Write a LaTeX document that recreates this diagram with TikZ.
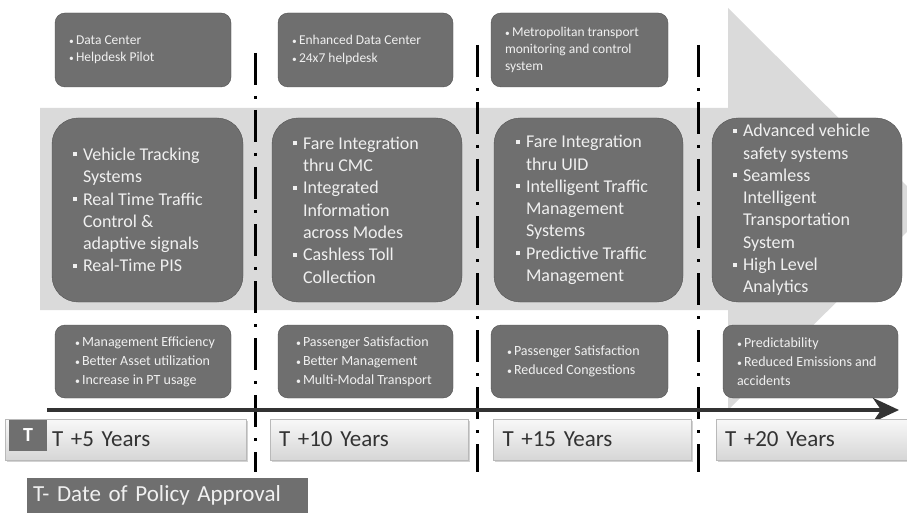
\documentclass[tikz,border=0pt]{standalone}
\usepackage{fontspec}
\setmainfont{Carlito}
\usetikzlibrary{arrows.meta, positioning, shadows}

\definecolor{boxfill}{HTML}{6F6F6F}
\definecolor{boxedge}{HTML}{525252}
\definecolor{boxtext}{HTML}{F0F0F0}
\definecolor{arrowfill}{HTML}{DADADA}
\definecolor{linecol}{HTML}{333333}
\definecolor{yeartop}{HTML}{F8F8F8}
\definecolor{yearbot}{HTML}{D6D6D6}

\newcommand{\sqb}{\makebox[10pt][l]{\rule[4pt]{4pt}{4pt}}}
\newcommand{\indt}{\hspace*{10pt}}
\newcommand{\dotb}{\makebox[7pt][l]{\scalebox{0.7}{\textbullet}}}

\begin{document}
\begin{tikzpicture}[x=1pt, y=-1pt,
	topbox/.style={draw=boxedge, fill=boxfill, rounded corners=10pt, minimum height=74pt},
	midbox/.style={draw=boxedge, fill=boxfill, rounded corners=26pt, minimum height=184pt},
	lowbox/.style={draw=boxedge, fill=boxfill, rounded corners=10pt, minimum height=73pt},
	toptext/.style={text=boxtext, align=left, inner sep=0pt, font=\fontsize{13.5}{17.3}\selectfont},
	midtext/.style={text=boxtext, align=left, inner sep=0pt, font=\fontsize{18}{22.3}\selectfont},
	lowtext/.style={text=boxtext, align=left, inner sep=0pt, font=\fontsize{14}{19}\selectfont},
	yearbox/.style={draw=gray!55, top color=yeartop, bottom color=yearbot, minimum height=41pt,
		text width=180pt, inner xsep=9pt, align=left, text=linecol, font=\fontsize{23}{26}\selectfont,
		drop shadow={shadow xshift=1.5pt, shadow yshift=-2pt, opacity=0.35}},
	sepline/.style={line width=3pt, dash pattern=on 32pt off 11pt on 3pt off 11pt},
	timeline/.style={line width=4.5pt, linecol, -{Stealth[length=26pt, width=24pt, inset=8pt]}}
]
	\useasboundingbox (0,0) rectangle (907,513);
	\clip (0,0) rectangle (907,513);
	\fill[white] (0,0) rectangle (907,513);
	
	% Big background arrow
	\fill[arrowfill] (40,108) -- (728,108) -- (728,8) -- (930,209) -- (728,410)
		-- (728,310) -- (40,310) -- cycle;
	
	% Phase separators
	\coordinate (v1top) at (255,53);
	\coordinate (v1bot) at (255,472);
	\coordinate (v2top) at (477,45);
	\coordinate (v2bot) at (477,472);
	\coordinate (v3top) at (698,45);
	\coordinate (v3bot) at (698,472);
	\draw[sepline] (v1top) -- (v1bot);
	\draw[sepline] (v2top) -- (v2bot);
	\draw[sepline] (v3top) -- (v3bot);
	
	% --- TOP ROW: infrastructure ---
	\node[topbox, minimum width=176pt] (d1) at (143,50) {};
	\node[toptext, right=14pt of d1.west] (d1t) {\dotb Data Center\\ \dotb Helpdesk Pilot};
	\node[topbox, minimum width=175pt] (d2) at (365.5,50) {};
	\node[toptext, right=14pt of d2.west] (d2t) {\dotb Enhanced Data Center\\ \dotb 24x7 helpdesk};
	\node[topbox, minimum width=177pt] (d3) at (579.5,50) {};
	\node[toptext, right=14pt of d3.west] (d3t) {\dotb Metropolitan transport\\ monitoring and control\\ system};
	
	% --- MIDDLE ROW: systems ---
	\node[midbox, minimum width=191pt] (s1) at (147.5,210) {};
	\node[midtext, right=21pt of s1.west] (s1t) {\sqb Vehicle Tracking\\ \indt Systems\\
		\sqb Real Time Traffic\\ \indt Control \&\\ \indt adaptive signals\\ \sqb Real-Time PIS};
	\node[midbox, minimum width=190pt] (s2) at (367,210) {};
	\node[midtext, right=21pt of s2.west] (s2t) {\sqb Fare Integration\\ \indt thru CMC\\
		\sqb Integrated\\ \indt Information\\ \indt across Modes\\ \sqb Cashless Toll\\ \indt Collection};
	\node[midbox, minimum width=189pt] (s3) at (588.5,210) {};
	\node[midtext, right=22pt of s3.west] (s3t) {\sqb Fare Integration\\ \indt thru UID\\
		\sqb Intelligent Traffic\\ \indt Management\\ \indt Systems\\ \sqb Predictive Traffic\\ \indt Management};
	\node[midbox, minimum width=190pt] (s4) at (807,210) {};
	\node[midtext, right=21pt of s4.west] (s4t) {\sqb Advanced vehicle\\ \indt safety systems\\
		\sqb Seamless\\ \indt Intelligent\\ \indt Transportation\\ \indt System\\ \sqb High Level\\ \indt Analytics};
	
	% --- BOTTOM ROW: benefits ---
	\node[lowbox, minimum width=176pt] (b1) at (143,361.5) {};
	\node[lowtext, right=20pt of b1.west] (b1t) {\dotb Management Efficiency\\
		\dotb Better Asset utilization\\ \dotb Increase in PT usage};
	\node[lowbox, minimum width=175pt] (b2) at (365.5,361.5) {};
	\node[lowtext, right=18pt of b2.west] (b2t) {\dotb Passenger Satisfaction\\
		\dotb Better Management\\ \dotb Multi-Modal Transport};
	\node[lowbox, minimum width=177pt] (b3) at (579.5,361.5) {};
	\node[lowtext, right=16pt of b3.west] (b3t) {\dotb Passenger Satisfaction\\ \dotb Reduced Congestions};
	\node[lowbox, minimum width=175pt] (b4) at (810.5,361.5) {};
	\node[lowtext, right=14pt of b4.west] (b4t) {\dotb Predictability\\ \dotb Reduced Emissions and\\ accidents};
	
	% Time axis
	\coordinate (tstart) at (47,410);
	\coordinate (tend) at (899,410);
	\draw[timeline] (tstart) -- (tend);
	
	% Milestones
	\node[yearbox, minimum width=241pt, text width=147pt, inner xsep=47pt] (y1) at (125.5,439.5) {T +5 Years};
	\node[yearbox] (y2) at (369,439.5) {T +10 Years};
	\node[yearbox] (y3) at (592.5,439.5) {T +15 Years};
	\node[yearbox] (y4) at (815,439.5) {T +20 Years};
	\node[fill=boxfill, text=white, minimum width=38pt, minimum height=31pt, inner sep=0pt,
		font=\fontsize{20}{24}\selectfont\bfseries] (t0) at (28,435.5) {T};
	
	% Legend
	\node[fill=boxfill, text=boxtext, minimum width=281pt, minimum height=35pt, text width=269pt,
		inner xsep=6pt, align=left, font=\fontsize{23}{26}\selectfont] (lg) at (167.5,495.5) {T- Date of Policy Approval};
	
\end{tikzpicture}
\end{document}
